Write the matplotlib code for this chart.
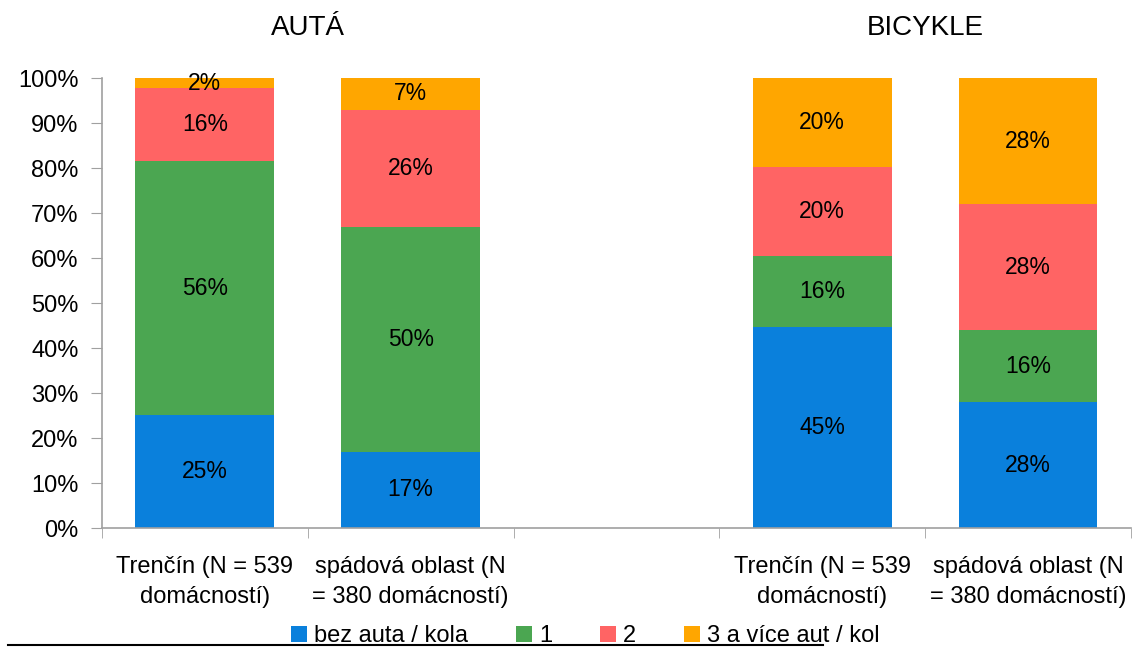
import matplotlib
matplotlib.use("Agg")
import matplotlib.pyplot as plt
from matplotlib.lines import Line2D
from matplotlib.patches import Patch
import numpy as np

plt.rcParams['font.family'] = ['Liberation Sans', 'DejaVu Sans']

categories = ["Trenčín (N = 539\ndomácností)", "spádová oblast (N\n= 380 domácností)", "",
              "Trenčín (N = 539\ndomácností)", "spádová oblast (N\n= 380 domácností)"]
group_titles = ["AUTÁ", "BICYKLE"]
series_names = ["bez auta / kola", "1", "2", "3 a více aut / kol"]
bez = [25.2, 17.0, 0, 44.6, 28.0]
one = [56.3, 50.0, 0, 15.9, 16.0]
two = [16.2, 26.0, 0, 19.8, 28.0]
three = [2.3, 7.0, 0, 19.7, 28.0]
labels = [["25%", "17%", "", "45%", "28%"],
          ["56%", "50%", "", "16%", "16%"],
          ["16%", "26%", "", "20%", "28%"],
          ["2%", "7%", "", "20%", "28%"]]
colors = ["#0A80DC", "#4BA651", "#FF6464", "#FFA600"]

fig = plt.figure(figsize=(11.32, 6.48), dpi=100)
ax = fig.add_axes([0.0901, 0.185, 0.9089, 0.6945])
x = np.arange(len(categories))
bottom = np.zeros(len(categories))
for vals, col, labs, name in zip([bez, one, two, three], colors, labels, series_names):
    vals = np.array(vals)
    ax.bar(x, vals, bottom=bottom, width=0.675, color=col, label=name, edgecolor='none')
    for xi, v, b, lab in zip(x, vals, bottom, labs):
        if lab:
            ax.text(xi, b + v / 2, lab, ha='center', va='center', fontsize=16.5, color='black')
    bottom += vals

ax.set_xlim(-0.5, 4.5)
ax.set_ylim(0, 100)
ax.set_yticks(np.arange(0, 101, 10))
ax.set_yticklabels([f"{v}%" for v in range(0, 101, 10)], fontsize=17)
ax.set_xticks(x)
ax.set_xticklabels(categories, fontsize=17, linespacing=1.5)
ax.set_xticks(np.arange(-0.5, 4.6, 1), minor=True)
ax.tick_params(axis='x', which='major', length=0, pad=20)
ax.tick_params(axis='x', which='minor', length=7, color='#A0A0A0')
ax.tick_params(axis='y', length=8, color='#A0A0A0', pad=9)
for s in ['top', 'right']:
    ax.spines[s].set_visible(False)
for s in ['left', 'bottom']:
    ax.spines[s].set_color('#A0A0A0')
    ax.spines[s].set_linewidth(1.2)

ax.text(0.5, 1.111, group_titles[0], transform=ax.get_xaxis_transform(),
        ha='center', va='center', fontsize=20)
ax.text(3.5, 1.111, group_titles[1], transform=ax.get_xaxis_transform(),
        ha='center', va='center', fontsize=20)

handles = [Patch(facecolor=c, edgecolor='none') for c in colors]
fig.legend(handles, series_names, loc='center', bbox_to_anchor=(0.517, 0.018), ncol=4,
           frameon=False, fontsize=17, handlelength=0.7, handleheight=0.7,
           handletextpad=0.3, columnspacing=2.0, borderpad=0)
fig.add_artist(Line2D([0.007, 0.727], [0.005, 0.005], color='black', linewidth=1.5,
                      transform=fig.transFigure))

fig.savefig("out.png", dpi=100)
